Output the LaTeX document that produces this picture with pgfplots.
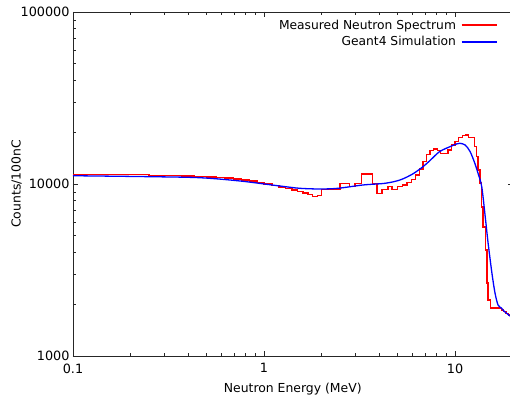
\documentclass[border=0pt]{standalone}
\usepackage{fontspec}
\setmainfont{DejaVu Sans}
\usepackage{pgfplots}
\pgfplotsset{compat=1.18}

\begin{document}
\begin{tikzpicture}
\begin{axis}[
  at={(0,0)}, anchor=south west,
  scale only axis,
  width=439.5bp, height=344bp,
  xmode=log, ymode=log,
  xmin=0.1, xmax=20, ymin=1000, ymax=100000,
  xtick={0.1,1,10}, xticklabels={0.1,1,10},
  ytick={1000,10000,100000}, yticklabels={1000,10000,100000},
  tick label style={font=\fontsize{12.8bp}{14bp}\selectfont},
  label style={font=\fontsize{12.4bp}{14bp}\selectfont},
  xlabel={Neutron Energy (MeV)},
  ylabel={Counts/100nC},
  xticklabel style={yshift=-4bp},
  xlabel style={yshift=-3bp},
  ylabel style={yshift=-8bp},
  axis line style={black!85, line width=0.8pt},
  tick style={black!85, line width=0.6pt},
  major tick length=5bp, minor tick length=3bp,
  legend cell align=right,
  legend plot pos=right,
  legend style={at={(1,1)}, anchor=north east, xshift=-12bp, yshift=-4bp,
    draw=none, fill=none, font=\fontsize{12.3bp}{14bp}\selectfont,
    row sep=3bp,
    nodes={inner xsep=5bp, inner ysep=1.5bp}},
]
\addplot[red, line width=1.3pt, const plot, forget plot] coordinates {
  (0.1,11320) (0.25,11250) (0.32,11180) (0.37,11110) (0.43,11040)
  (0.5,10980) (0.56,10910) (0.62,10820) (0.69,10690) (0.76,10560)
  (0.84,10400) (0.92,10230) (1.0,10000)
  (1.1,9800) (1.2,9610) (1.3,9415) (1.4,9230) (1.5,9050)
  (1.6,8850) (1.7,8650) (1.8,8450) (1.9,8550)
  (2.0,9316) (2.5,10094) (2.8,9645) (3.0,10094) (3.25,11430)
  (3.7,10094) (3.9,8830) (4.15,9316) (4.46,9645) (4.68,9316)
  (5.0,9645) (5.3,9870) (5.6,10200) (5.9,10600) (6.2,11300)
  (6.5,12200) (6.8,13500) (7.1,14800) (7.4,15600) (7.7,16000)
  (8.1,15600) (8.4,15080) (9.2,15760) (9.6,16860) (10.0,17620)
  (10.4,18700) (10.9,19100) (11.3,19250) (11.8,18700) (12.4,18700)
  (12.7,16470) (13.0,14400) (13.2,12060) (13.5,10140) (13.8,7350)
  (14.0,5620) (14.4,4130) (14.7,2660) (14.9,2120) (15.4,1900)
  (17.0,1880) (17.5,1850) (18.0,1810) (18.5,1770) (19.0,1730)
  (19.5,1700) (20.0,1680)
};
\addplot[blue, line width=1.3pt, smooth, forget plot] coordinates {
  (0.1,11170) (0.25,11030) (0.46,10880) (0.75,10410) (1.21,9735)
  (1.54,9440) (1.97,9353) (2.44,9440) (3.3,9870) (4.3,10094)
  (5.15,10550) (6.0,11430) (6.8,12610) (7.4,13700) (8.3,15420)
  (9.4,16470) (10.2,17100) (10.6,17240) (11.3,16860) (12.0,15420)
  (12.7,13190) (13.2,11540) (13.8,9645) (14.4,6430) (14.9,4540)
  (15.6,3040) (16.2,2320) (16.8,1980) (17.5,1900) (18.0,1830)
  (19.4,1710) (20.0,1680)
};
\addlegendimage{legend image code/.code={\draw[red, line width=1.3pt] (0bp,0bp) -- (35bp,0bp);}}
\addlegendentry{Measured Neutron Spectrum}
\addlegendimage{legend image code/.code={\draw[blue, line width=1.3pt] (0bp,0bp) -- (35bp,0bp);}}
\addlegendentry{Geant4 Simulation}
\end{axis}
\pgfresetboundingbox
\path[use as bounding box] (-73bp,-45bp) rectangle (437bp,356bp);
\end{tikzpicture}
\end{document}
